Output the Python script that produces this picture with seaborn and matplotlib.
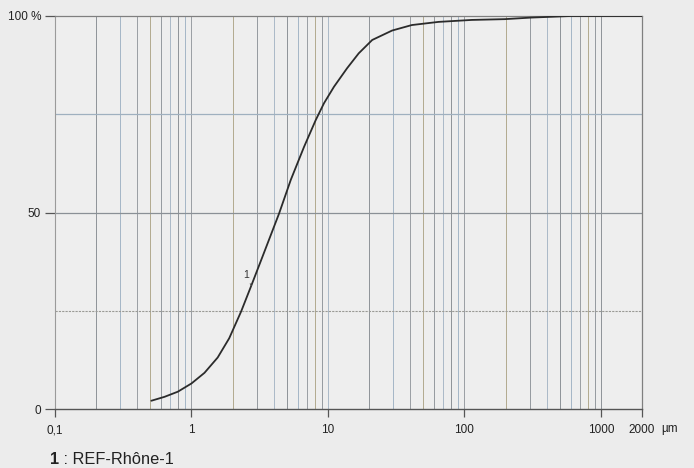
import matplotlib
matplotlib.use("Agg")
import matplotlib.pyplot as plt
import matplotlib.transforms as mtransforms
import seaborn as sns
import pandas as pd

# Cumulative particle size distribution, REF-Rhône-1
size_um = [0.508, 0.635, 0.794, 1.0, 1.245, 1.556, 1.89, 2.31, 2.73, 3.3,
           4.39, 5.34, 6.68, 8.13, 9.35, 11.07, 13.8, 16.8, 21.1, 29.5,
           41.2, 64.6, 113.0, 198.0, 309.0, 434.0, 600.0, 1000.0, 2000.0]
cumulative_pct = [2.1, 3.1, 4.4, 6.5, 9.2, 13.1, 18.0, 24.8, 31.2, 38.6,
                  49.8, 58.3, 66.7, 73.5, 77.8, 82.0, 86.7, 90.5, 93.9, 96.3,
                  97.7, 98.5, 99.0, 99.2, 99.6, 99.8, 100.0, 100.0, 100.0]

x_ticks = [0.1, 1, 10, 100, 1000, 2000]
x_tick_labels = ["0,1", "1", "10", "100", "1000", "2000"]
y_ticks = [0, 50, 100]
y_tick_labels = ["0", "50", "100 %"]
curve_id = "1"
sample_name = "REF-Rhône-1"

sns.set_theme(style="white")
plt.rcParams["font.family"] = ["Liberation Sans", "DejaVu Sans"]

bg = "#ececec"
fig = plt.figure(figsize=(6.94, 4.68), dpi=100, facecolor=bg)
ax = fig.add_axes([55 / 694, 1 - 409 / 468, (642 - 55) / 694, (409 - 16) / 468])
ax.set_facecolor("#eeeeee")

ax.set_xscale("log")
ax.set_xlim(0.1, 2000)
ax.set_ylim(0, 100)

# Vertical grid: every 1..9 step of each decade up to 1000
grid_cols = ["#8e9398", "#a4b6c6", "#9a9ea3", "#b2a98f", "#959a9f", "#aab9c7"]
k = 0
for dec in [0.1, 1, 10, 100]:
    for m in range(1, 10):
        v = dec * m
        if v <= 0.1:
            continue
        ax.axvline(v, color=grid_cols[k % len(grid_cols)], lw=0.7, zorder=1)
        k += 1
ax.axvline(1000, color="#8e9398", lw=0.7, zorder=1)

# Horizontal reference lines
ax.axhline(25, color="#9a9a95", lw=0.8, ls=(0, (2, 1)), zorder=1)
ax.axhline(50, color="#8a9096", lw=0.9, zorder=1)
ax.axhline(75, color="#9fb0bf", lw=0.9, zorder=1)

df = pd.DataFrame({"size": size_um, "pct": cumulative_pct})
sns.lineplot(data=df, x="size", y="pct", ax=ax, color="#2b2b2b", lw=1.3,
             zorder=3, sort=True)

# Curve number with a short leader
ax.annotate(curve_id, xy=(2.74, 31.4), xytext=(2.5, 34.0), fontsize=7.5,
            color="#333333", ha="center", va="center",
            arrowprops=dict(arrowstyle="-", color="#555555", lw=0.7,
                            shrinkA=3, shrinkB=0))

for side in ["top", "right"]:
    ax.spines[side].set_color("#7f7f7f")
    ax.spines[side].set_linewidth(0.9)
ax.spines["left"].set_color("#9a9a9a")
ax.spines["left"].set_linewidth(0.8)
ax.spines["bottom"].set_color("#555555")
ax.spines["bottom"].set_linewidth(1.0)

ax.set_xticks(x_ticks)
ax.set_xticklabels(x_tick_labels)
ax.xaxis.set_minor_locator(matplotlib.ticker.NullLocator())
ax.set_yticks(y_ticks)
ax.set_yticklabels(y_tick_labels)
ax.tick_params(axis="x", length=6, width=0.9, color="#555555", pad=5,
               labelsize=8.5, labelcolor="#222222", bottom=True)
ax.tick_params(axis="y", length=7, width=0.9, color="#555555", pad=3,
               labelsize=8.5, labelcolor="#222222", left=True)
ax.set_xlabel("")
ax.set_ylabel("")

# Unit to the right of the last tick label, on the same baseline
unit_tr = mtransforms.offset_copy(ax.get_xaxis_transform(), fig=fig,
                                  x=19, y=-23, units="dots")
ax.text(2000, 0, "µm", transform=unit_tr, fontsize=8.5, color="#222222",
        ha="left", va="baseline")

# Key below the chart
fig.text(50 / 694, 1 - 459 / 468, curve_id, fontsize=11.8, fontweight="bold",
         color="#222222", ha="left", va="center")
fig.text(59 / 694, 1 - 459 / 468, " : " + sample_name, fontsize=11.8,
         color="#222222", ha="left", va="center")

fig.savefig("out.png", dpi=100, facecolor=bg)
